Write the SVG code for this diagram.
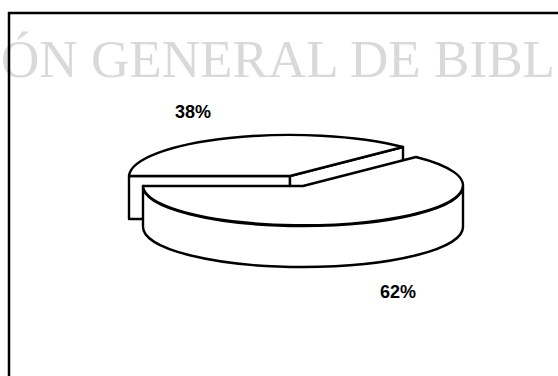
<svg xmlns="http://www.w3.org/2000/svg" width="558" height="376" viewBox="0 0 558 376">
<style>
.frame{stroke:#000;stroke-width:2.5;fill:none}
.wm{font-family:"Liberation Serif","Times New Roman",serif;font-size:53.5px;fill:#d9d9d9}
.pie{fill:#fff;stroke:#000;stroke-width:2.4;stroke-linejoin:round}
.lbl{font-family:"Liberation Sans",Arial,sans-serif;font-weight:bold;font-size:18px;fill:#000}
</style>
<rect width="558" height="376" fill="#fff"/>
<g id="watermark">
<text class="wm" x="1" y="77" textLength="554" lengthAdjust="spacingAndGlyphs">ÓN GENERAL DE BIBL</text>
</g>
<g id="frame">
<line class="frame" x1="8" y1="13" x2="558" y2="13"/>
<line class="frame" x1="9" y1="12" x2="9" y2="376" stroke-width="3"/>
</g>
<g id="slice38">
<path class="pie" d="M129,176 L290,176 L290,219 L129,219 Z"/>
<path class="pie" d="M290,176 L403,147 L403,189 L290,219 Z"/>
<path class="pie" d="M290,176 L129,176 A161,42 0 0,1 403,147 Z"/>
</g>
<g id="slice62">
<path class="pie" d="M143,186 A160,40 0 0,0 463,186 L463,227 A160,40 0 0,1 143,227 Z"/>
<path class="pie" d="M303,186 L416,157 A160,40 0 1,1 143,186 Z"/>
</g>
<g id="label38"><text class="lbl" x="175" y="118">38%</text></g>
<g id="label62"><text class="lbl" x="380" y="298">62%</text></g>
<g id="connectors"></g>
</svg>
